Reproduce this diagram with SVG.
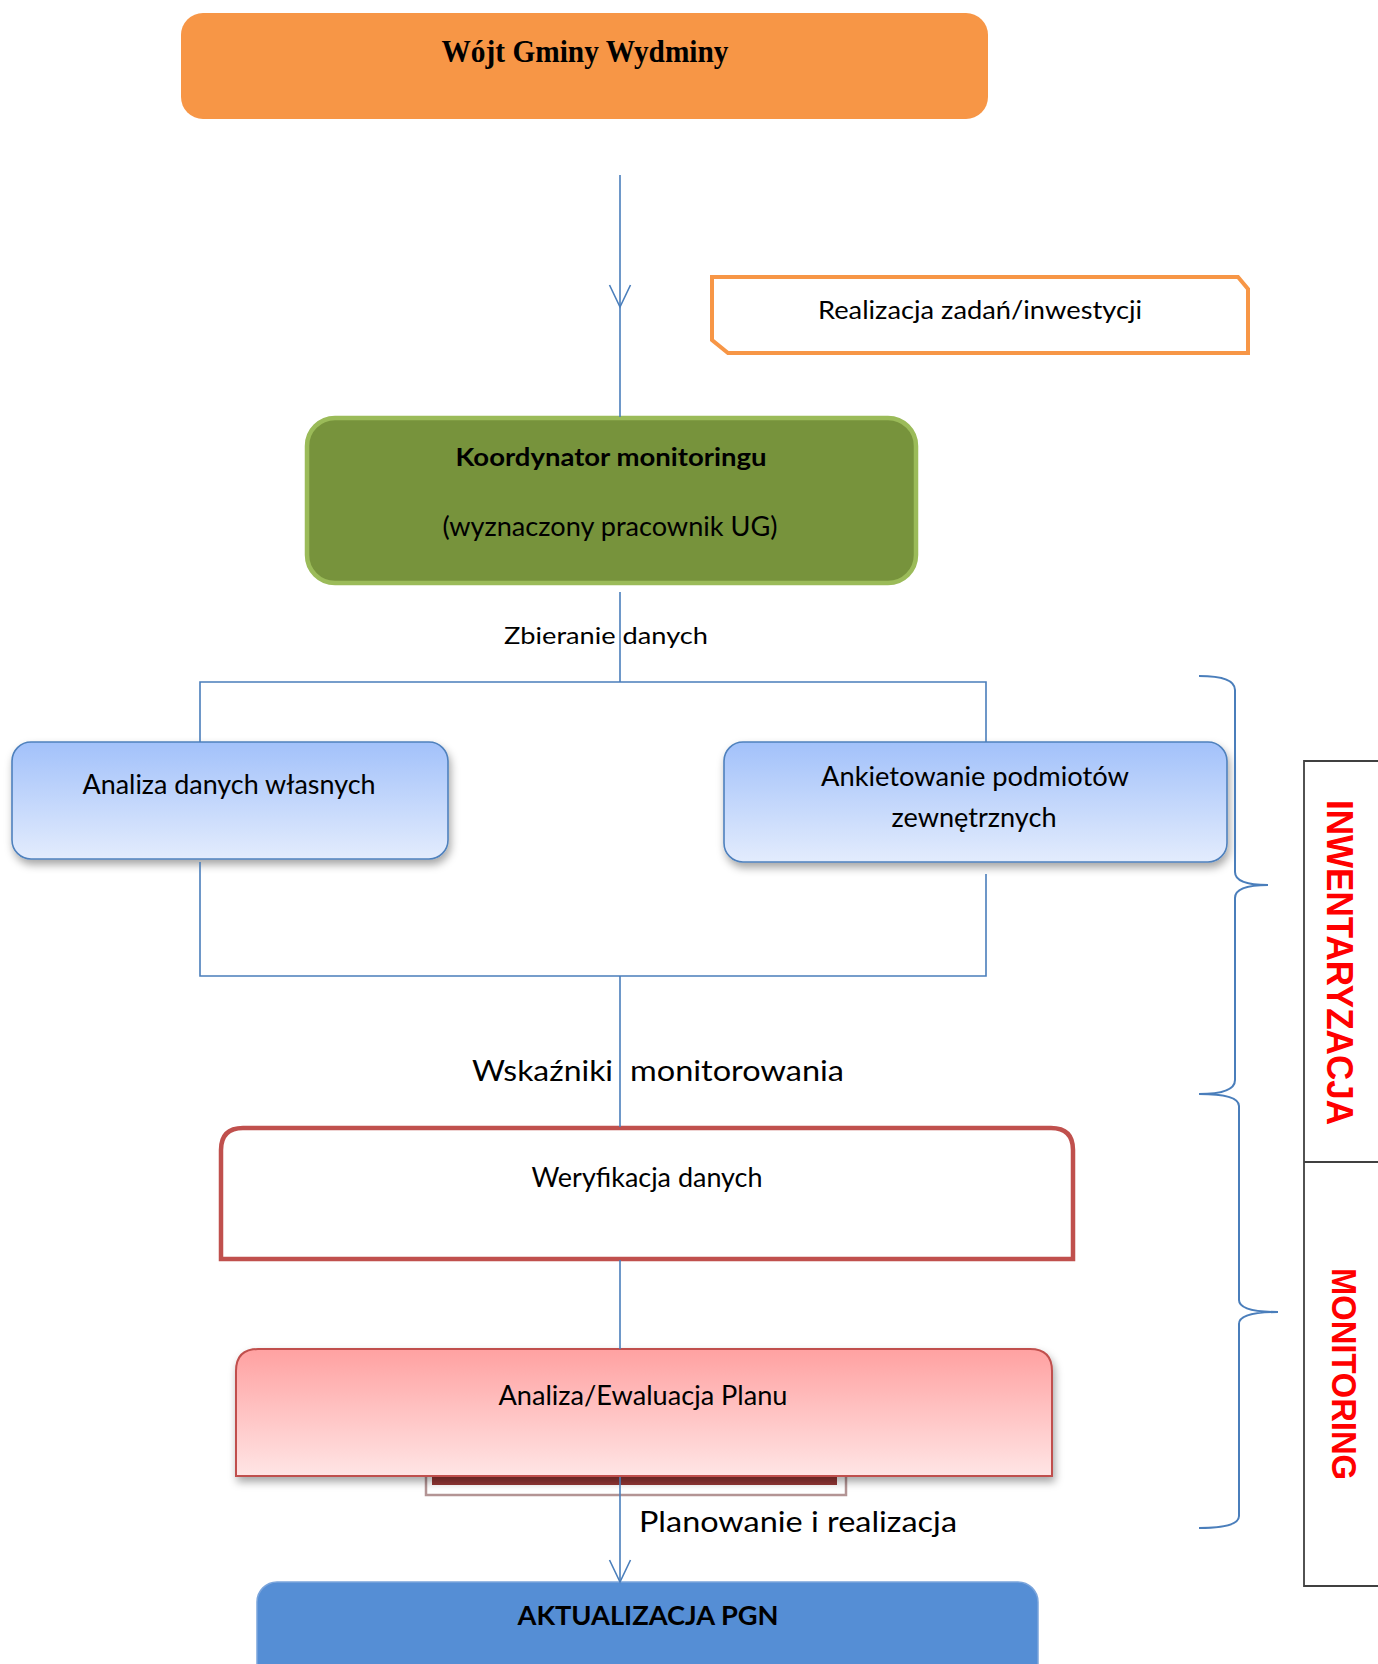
<svg xmlns="http://www.w3.org/2000/svg" width="1378" height="1664" viewBox="0 0 1378 1664">
<style>
.t{font-family:Lato,"Open Sans","Liberation Sans",sans-serif;fill:#000;}
.c{stroke:#4a7ebb;stroke-width:1.6;fill:none;}
.br{stroke:#4a7ebb;stroke-width:2;fill:none;}
.side{font-family:"Liberation Sans",Arial,sans-serif;font-weight:bold;fill:#ff0000;}
</style>
<defs>
<linearGradient id="gBlue" x1="0" y1="0" x2="0" y2="1">
<stop offset="0" stop-color="#a2c1fa"/><stop offset="1" stop-color="#e3ecfd"/>
</linearGradient>
<linearGradient id="gPink" x1="0" y1="0" x2="0" y2="1">
<stop offset="0" stop-color="#ffa1a1"/><stop offset="1" stop-color="#ffe5e5"/>
</linearGradient>
<filter id="sh" x="-10%" y="-20%" width="120%" height="150%">
<feDropShadow dx="2" dy="5" stdDeviation="4" flood-color="#000" flood-opacity="0.35"/>
</filter>
<marker id="v" viewBox="-24 -13 28 26" refX="0" refY="0" markerWidth="28" markerHeight="26" markerUnits="userSpaceOnUse" orient="auto" overflow="visible">
<path d="M-22,-10.5 L0,0 L-22,10.5" fill="none" stroke="#4a7ebb" stroke-width="1.6"/>
</marker>
</defs>
<rect width="1378" height="1664" fill="#fff"/>

<g id="wojt">
<rect x="181" y="13" width="807" height="106" rx="22" fill="#f79646"/>
<text x="585" y="62" text-anchor="middle" font-family="'Liberation Serif','Times New Roman',serif" font-weight="bold" font-size="32" textLength="287" lengthAdjust="spacingAndGlyphs">Wójt Gminy Wydminy</text>
</g>

<g id="realizacja">
<path d="M712,277 H1238 L1248,289 V353 H728 L712,340 Z" fill="#fff" stroke="#f79646" stroke-width="4"/>
<text class="t" x="980" y="319" text-anchor="middle" font-size="25" textLength="324" lengthAdjust="spacingAndGlyphs">Realizacja zadań/inwestycji</text>
</g>

<g id="koordynator">
<rect x="307" y="418" width="609" height="165" rx="28" fill="#77933c" stroke="#9bbb59" stroke-width="4.5"/>
<text class="t" x="611" y="466" text-anchor="middle" font-size="25" font-weight="bold" textLength="311" lengthAdjust="spacingAndGlyphs">Koordynator monitoringu</text>
<text class="t" x="610" y="536" text-anchor="middle" font-size="26" textLength="335" lengthAdjust="spacingAndGlyphs">(wyznaczony pracownik UG)</text>
</g>

<g id="zbieranie">
<text class="t" x="606" y="644" text-anchor="middle" font-size="23" textLength="204" lengthAdjust="spacingAndGlyphs">Zbieranie danych</text>
</g>

<g id="analiza-wlasnych">
<rect x="12" y="742" width="436" height="117" rx="19" fill="url(#gBlue)" stroke="#4f81bd" stroke-width="1.6" filter="url(#sh)"/>
<text class="t" x="229" y="794" text-anchor="middle" font-size="26" textLength="293" lengthAdjust="spacingAndGlyphs">Analiza danych własnych</text>
</g>

<g id="ankietowanie">
<rect x="724" y="742" width="503" height="120" rx="19" fill="url(#gBlue)" stroke="#4f81bd" stroke-width="1.6" filter="url(#sh)"/>
<text class="t" x="975" y="786" text-anchor="middle" font-size="26" textLength="308" lengthAdjust="spacingAndGlyphs">Ankietowanie podmiotów</text>
<text class="t" x="974" y="827" text-anchor="middle" font-size="26" textLength="165" lengthAdjust="spacingAndGlyphs">zewnętrznych</text>
</g>

<g id="wskazniki">
<text class="t" x="472" y="1081" font-size="28" textLength="141" lengthAdjust="spacingAndGlyphs">Wskaźniki</text>
<text class="t" x="630" y="1081" font-size="28" textLength="214" lengthAdjust="spacingAndGlyphs">monitorowania</text>
</g>

<g id="weryfikacja">
<path d="M221,1259 V1150 Q221,1128 243,1128 H1051 Q1073,1128 1073,1150 V1259 Z" fill="#fff" stroke="#c0504d" stroke-width="4.5"/>
<text class="t" x="647" y="1187" text-anchor="middle" font-size="26" textLength="231" lengthAdjust="spacingAndGlyphs">Weryfikacja danych</text>
</g>

<g id="ewaluacja">
<rect x="426" y="1466" width="420" height="29" fill="#fff" stroke="#b39494" stroke-width="2.5"/>
<rect x="432" y="1466" width="405" height="19" fill="#953735"/>
<path d="M236,1476 V1371 Q236,1349 258,1349 H1030 Q1052,1349 1052,1371 V1476 Z" fill="url(#gPink)" stroke="#c0504d" stroke-width="2" filter="url(#sh)"/>
<text class="t" x="643" y="1405" text-anchor="middle" font-size="26" textLength="289" lengthAdjust="spacingAndGlyphs">Analiza/Ewaluacja Planu</text>
</g>

<g id="planowanie">
<text class="t" x="639" y="1532" font-size="28" textLength="318" lengthAdjust="spacingAndGlyphs">Planowanie i realizacja</text>
</g>

<g id="aktualizacja">
<rect x="257" y="1582" width="781" height="110" rx="20" fill="#558ed5" stroke="#7ba5dc" stroke-width="1.5"/>
<text class="t" x="648" y="1625" text-anchor="middle" font-size="26" font-weight="bold" textLength="261" lengthAdjust="spacingAndGlyphs">AKTUALIZACJA PGN</text>
</g>

<g id="etapy">
<path d="M1380,761 H1304 V1586 H1380" fill="none" stroke="#404040" stroke-width="1.8"/>
<line x1="1304" y1="1162" x2="1380" y2="1162" stroke="#404040" stroke-width="1.8"/>
<text class="side" transform="translate(1327,962.5) rotate(90)" text-anchor="middle" font-size="37" textLength="325" lengthAdjust="spacingAndGlyphs">INWENTARYZACJA</text>
<text class="side" transform="translate(1332,1374) rotate(90)" text-anchor="middle" font-size="35" textLength="212" lengthAdjust="spacingAndGlyphs">MONITORING</text>
</g>

<g id="braces">
<path class="br" d="M1199,676 Q1235,676 1235,690 V872 Q1235,885 1268,885 Q1235,885 1235,898 V1080 Q1235,1094 1199,1094"/>
<path class="br" d="M1199,1094 Q1239,1094 1239,1106 V1300 Q1239,1312 1278,1312 Q1239,1312 1239,1324 V1516 Q1239,1528 1199,1528"/>
</g>

<g id="connectors">
<polyline class="c" points="620,175 620,307 620,417" marker-mid="url(#v)"/>
<line class="c" x1="620" y1="592" x2="620" y2="682"/>
<polyline class="c" points="200,742 200,682 986,682 986,742"/>
<polyline class="c" points="200,862 200,976 986,976 986,874"/>
<line class="c" x1="620" y1="976" x2="620" y2="1127"/>
<line class="c" x1="620" y1="1260" x2="620" y2="1349"/>
<line class="c" x1="620" y1="1477" x2="620" y2="1582" marker-end="url(#v)"/>
</g>
</svg>
